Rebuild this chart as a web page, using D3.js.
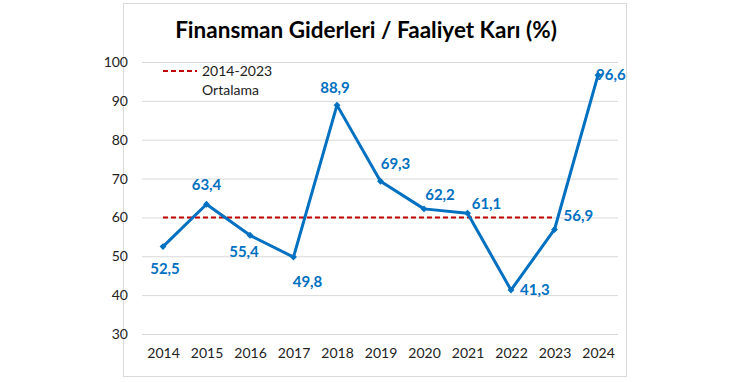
<!DOCTYPE html>
<html><head><meta charset="utf-8">
<script src="https://cdn.jsdelivr.net/npm/d3@7"></script>
<style>body{margin:0;background:#fff}svg{display:block}text{font-family:Lato,"Open Sans",sans-serif}</style>
</head><body><svg id="c" width="740" height="382"></svg>
<script>
const years = ["2014","2015","2016","2017","2018","2019","2020","2021","2022","2023","2024"];
const ratio = [52.5,63.4,55.4,49.8,88.9,69.3,62.2,61.1,41.3,56.9,96.6];
const avgYears = ["2014","2023"];
const avgValue = 60;
const yTicks = [30,40,50,60,70,80,90,100];
const title = "Finansman Giderleri / Faaliyet Karı (%)";
const legendLines = ["2014-2023","Ortalama"];

const svg = d3.select("#c");
const blue = "#0070C0", red = "#C00000";
svg.append("rect").attr("x",123.5).attr("y",3.5).attr("width",503).attr("height",373)
  .attr("fill","#fff").attr("stroke","#d9d9d9");

const x = d3.scalePoint().domain(years).range([163,598]);
const y = d3.scaleLinear().domain([30,100]).range([334,62]);

svg.append("text").attr("x",366).attr("y",38).attr("text-anchor","middle")
  .attr("font-size",22.5).attr("font-weight","bold").attr("fill","#000").text(title);

const ya = svg.append("g").attr("transform","translate(142,0)")
  .call(d3.axisLeft(y).tickValues(yTicks).tickSize(-476).tickPadding(14));
ya.select(".domain").remove();
ya.selectAll(".tick line").attr("stroke","#d9d9d9");
ya.selectAll(".tick text").attr("font-size",14).attr("fill","#222").attr("font-family","Lato,sans-serif");

const xa = svg.append("g").attr("transform","translate(0,334)")
  .call(d3.axisBottom(x).tickSize(0).tickPadding(14));
xa.select(".domain").attr("stroke","#d9d9d9");
xa.selectAll(".tick text").attr("font-size",14).attr("fill","#222").attr("font-family","Lato,sans-serif");

// average line
svg.append("line").attr("x1",x(avgYears[0])).attr("x2",x(avgYears[1]))
  .attr("y1",y(avgValue)).attr("y2",y(avgValue))
  .attr("stroke",red).attr("stroke-width",2).attr("stroke-dasharray","5,3");

// legend
svg.append("line").attr("x1",163).attr("x2",197).attr("y1",71).attr("y2",71)
  .attr("stroke",red).attr("stroke-width",2).attr("stroke-dasharray","5,3");
svg.selectAll(".lg").data(legendLines).join("text").attr("x",202).attr("y",(d,i)=>76+i*19)
  .attr("font-size",14).attr("fill","#222").text(d=>d);

const data = years.map((yr,i)=>({yr,v:ratio[i]}));
svg.append("path").datum(data)
  .attr("d",d3.line().x(d=>x(d.yr)).y(d=>y(d.v)))
  .attr("fill","none").attr("stroke",blue).attr("stroke-width",3).attr("stroke-linejoin","round");

svg.selectAll(".pt").data(data).join("path")
  .attr("transform",d=>`translate(${x(d.yr)},${y(d.v)})`)
  .attr("d",d3.symbol(d3.symbolDiamond2,30)).attr("fill",blue);

// label offsets [dx, dy(baseline), anchor]
const off = [[2,27,"middle"],[0,-14,"middle"],[-6,22,"middle"],[14,30,"middle"],[-2,-12,"middle"],[15,-12,"middle"],[16,-9,"middle"],[19,-4,"middle"],[9,5,"start"],[9,-8,"start"],[-2,5,"start"]];
svg.selectAll(".lb").data(data).join("text")
  .attr("x",(d,i)=>x(d.yr)+off[i][0]).attr("y",(d,i)=>y(d.v)+off[i][1])
  .attr("text-anchor",(d,i)=>off[i][2])
  .attr("font-size",15).attr("font-weight","bold").attr("fill",blue)
  .text(d=>d.v.toFixed(1).replace(".",","));
</script></body></html>
